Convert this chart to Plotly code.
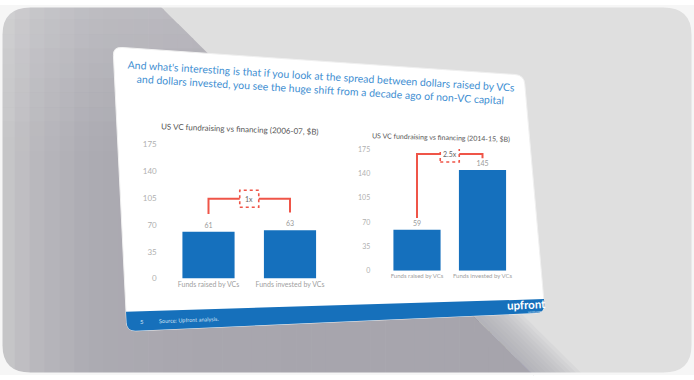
import plotly.graph_objects as go

W, H = 694, 380

# ---------------- data ----------------
categories = ["Funds raised by VCs", "Funds invested by VCs"]
values_2006 = [61, 63]
values_2014 = [59, 145]
y_ticks = [0, 35, 70, 105, 140, 175]
title_text = ("And what's interesting is that if you look at the spread between dollars raised by VCs<br>"
              "and dollars invested, you see the huge shift from a decade ago of non-VC capital")
chart_titles = ["US VC fundraising vs financing (2006-07, $B)",
                "US VC fundraising vs financing (2014-15, $B)"]
footer_page = "5"
footer_source = "Source: Upfront analysis."
logo_text = "upfront"
logo_sub = "ventures"

# ---------------- helpers ----------------
def px(x):
    return x / W

def py(y):
    return 1 - y / H

def poly_path(pts):
    return "M" + " L".join(f"{px(x):.5f},{py(y):.5f}" for x, y in pts) + " Z"

def rounded_path(points, radii):
    n = len(points)
    segs = []
    for i in range(n):
        p = points[i]
        r = radii[i]
        prev = points[i - 1]
        nxt = points[(i + 1) % n]
        if r <= 0:
            a = b = p
        else:
            def toward(q, d):
                dx, dy = q[0] - p[0], q[1] - p[1]
                L = (dx * dx + dy * dy) ** 0.5
                return (p[0] + dx / L * d, p[1] + dy / L * d)
            a = toward(prev, r)
            b = toward(nxt, r)
        cmd = "M" if i == 0 else "L"
        segs.append(f"{cmd}{px(a[0]):.5f},{py(a[1]):.5f}")
        if r > 0:
            segs.append(f"Q{px(p[0]):.5f},{py(p[1]):.5f} {px(b[0]):.5f},{py(b[1]):.5f}")
    segs.append("Z")
    return " ".join(segs)

def lerp_color(stops, t):
    for (t0, c0), (t1, c1) in zip(stops[:-1], stops[1:]):
        if t <= t1:
            u = (t - t0) / (t1 - t0) if t1 > t0 else 0
            return "rgb({},{},{})".format(*[int(round(a + (b - a) * u)) for a, b in zip(c0, c1)])
    return "rgb({},{},{})".format(*stops[-1][1])

shapes = []

# background light gray
shapes.append(dict(type="rect", xref="paper", yref="paper", x0=0, x1=1, y0=0, y1=1,
                   fillcolor="#dfdfdf", line=dict(width=0), layer="below"))

# darker left region (left of a diagonal) with horizontal gradient stripes
D0, DS = 159, 0.985

def diag_y(x):
    return max(0.0, (x - D0) / DS)

xstops = [(0, (200, 200, 202)), (40, (184, 183, 188)), (90, (172, 171, 178)),
          (200, (168, 166, 174)), (540, (166, 164, 172))]
xmax = D0 + DS * H
nstripe = 36
for i in range(nstripe):
    xa = xmax * i / nstripe
    xb = xmax * (i + 1) / nstripe + 0.6
    top = [(xa, diag_y(xa))]
    if xa < D0 < xb:
        top.append((D0, 0))
    top.append((xb, diag_y(xb)))
    pts = top + [(xb, H), (xa, H)]
    shapes.append(dict(type="path", xref="paper", yref="paper", path=poly_path(pts),
                       fillcolor=lerp_color(xstops, (xa + xb) / 2),
                       line=dict(width=0), layer="below"))

# lighten the top of the left region
nb = 10
for i in range(nb):
    ya = 150 * i / nb
    yb = 150 * (i + 1) / nb
    op = 0.28 * (1 - (i + 0.5) / nb)
    pts = [(0, ya), (D0 + DS * ya, ya), (D0 + DS * yb, yb), (0, yb)]
    shapes.append(dict(type="path", xref="paper", yref="paper", path=poly_path(pts),
                       fillcolor=f"rgba(235,235,235,{op:.3f})", line=dict(width=0), layer="below"))

# soft shadow beyond the diagonal below the card
for k in range(1, 11):
    d = 5 * k
    ya, yb = 300, H
    pts = [(D0 + DS * ya, ya), (D0 + DS * ya + d, ya), (D0 + DS * yb + d, yb), (D0 + DS * yb, yb)]
    shapes.append(dict(type="path", xref="paper", yref="paper", path=poly_path(pts),
                       fillcolor="rgba(165,163,173,0.11)", line=dict(width=0), layer="below"))

# white rounded frame around the picture
outer = "M0,0 L1,0 L1,1 L0,1 Z "
inner = rounded_path([(2.5, 2.5), (691.5, 2.5), (691.5, 377.5), (2.5, 377.5)], [28, 28, 28, 28])
shapes.append(dict(type="path", xref="paper", yref="paper", path=outer + inner,
                   fillcolor="#f6f6f6", line=dict(width=0), layer="below"))

# card
card = [(113, 43), (524, 72), (545, 316), (127, 335)]
shapes.append(dict(type="path", xref="paper", yref="paper",
                   path=rounded_path(card, [9, 9, 9, 9]),
                   fillcolor="#ffffff", line=dict(color="#f0f0f0", width=1), layer="below"))
# footer band
footer = [(126, 315), (544, 302), (545, 316), (127, 335)]
shapes.append(dict(type="path", xref="paper", yref="paper",
                   path=rounded_path(footer, [0, 0, 9, 9]),
                   fillcolor="#1670bb", line=dict(width=0), layer="below"))

BAR = "#1570bd"
RED = "#ef5548"
FONT = "Lato"

fig = go.Figure()

charts = [
    dict(vals=values_2006, xa="x", ya="y", width=0.64, leg_gap=23, top_gap=41,
         box_w=19, box_h=17),
    dict(vals=values_2014, xa="x2", ya="y2", width=0.72, leg_gap=17, top_gap=23,
         box_w=19, box_h=16),
]

annotations = []
for c in charts:
    vals = c["vals"]
    fig.add_trace(go.Bar(
        x=categories, y=vals, xaxis=c["xa"], yaxis=c["ya"],
        marker=dict(color=BAR, line=dict(width=0)), width=c["width"],
        text=[str(v) for v in vals], textposition="outside",
        textfont=dict(color="#9a9a9a", size=7, family=FONT),
        cliponaxis=False, showlegend=False, hoverinfo="skip"))
    top = max(vals) + c["top_gap"]
    fig.add_trace(go.Scatter(
        x=[categories[0], categories[0], categories[1], categories[1]],
        y=[vals[0] + c["leg_gap"], top, top, vals[1] + c["leg_gap"]],
        xaxis=c["xa"], yaxis=c["ya"], mode="lines",
        line=dict(color=RED, width=2), showlegend=False, hoverinfo="skip",
        cliponaxis=False))
    ratio = vals[1] / vals[0]
    label = f"{round(ratio, 1):g}x"
    shapes.append(dict(type="rect", xref=c["xa"], yref=c["ya"],
                       xsizemode="pixel", ysizemode="pixel", xanchor=0.5, yanchor=top,
                       x0=-c["box_w"] / 2, x1=c["box_w"] / 2,
                       y0=-c["box_h"] / 2, y1=c["box_h"] / 2,
                       fillcolor="white", line=dict(color=RED, width=1.6, dash="dot"),
                       layer="above"))
    annotations.append(dict(x=0.5, y=top, xref=c["xa"], yref=c["ya"], text=label,
                            showarrow=False, xanchor="center", yanchor="middle",
                            font=dict(size=7, color="#666666", family=FONT)))

def ann(x, y, text, size, color, angle=0, xanchor="center", **kw):
    annotations.append(dict(x=px(x), y=py(y), xref="paper", yref="paper", text=text,
                            showarrow=False, textangle=angle, xanchor=xanchor, yanchor="middle",
                            font=dict(size=size, color=color, family=FONT), **kw))

ann(321, 80, title_text, 10.5, "#3f8fd2", angle=3.4, align="center")
ann(240, 127, chart_titles[0], 8, "#555555", angle=2)
ann(441, 136, chart_titles[1], 7, "#555555", angle=1.5)
ann(142, 325, footer_page, 6, "#cfe0f3")
ann(157, 323.5, footer_source, 5.5, "#cfe0f3", angle=-2.2, xanchor="left")
ann(526, 308, f"<b>{logo_text}</b>", 11.5, "#ffffff", angle=-2.5)
ann(535, 315.5, logo_sub, 3.5, "#cfe0f3", angle=-2.5)

axis_common = dict(showgrid=False, zeroline=False, showline=False, fixedrange=True)

fig.update_layout(
    width=W, height=H, margin=dict(l=0, r=0, t=0, b=0),
    paper_bgcolor="#ffffff", plot_bgcolor="rgba(0,0,0,0)",
    shapes=shapes, annotations=annotations, showlegend=False,
    xaxis=dict(domain=[px(167.75), px(330.75)], anchor="y", range=[-0.5, 1.5],
               tickfont=dict(size=7, color="#a0a0a0", family=FONT), ticks="", **axis_common),
    yaxis=dict(domain=[py(281), py(143)], anchor="x", range=[0, 175], tickvals=y_ticks,
               ticklabelstandoff=10,
               tickfont=dict(size=8, color="#b0b0b0", family=FONT), ticks="", **axis_common),
    xaxis2=dict(domain=[px(384.25), px(515.25)], anchor="y2", range=[-0.5, 1.5],
                tickfont=dict(size=6, color="#a0a0a0", family=FONT), ticks="", **axis_common),
    yaxis2=dict(domain=[py(273), py(148)], anchor="x2", range=[0, 175], tickvals=y_ticks,
                ticklabelstandoff=13,
                tickfont=dict(size=7, color="#b0b0b0", family=FONT), ticks="", **axis_common),
)

fig.write_html("out.html")
